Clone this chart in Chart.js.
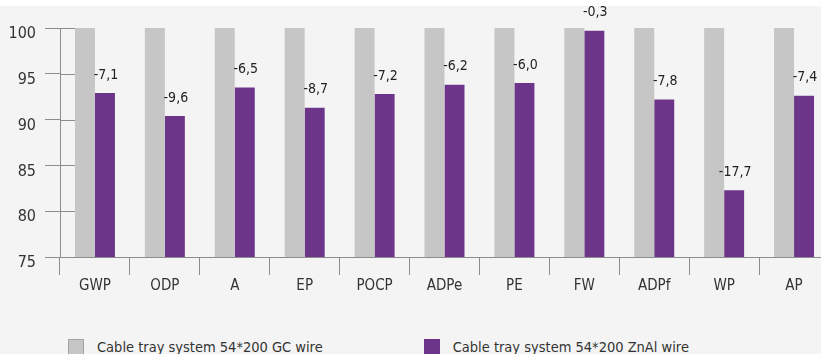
<!DOCTYPE html>
<html>
<head>
<meta charset="utf-8">
<script src="https://cdn.jsdelivr.net/npm/chart.js@4.4.1/dist/chart.umd.min.js"></script>
<style>
	html, body { margin: 0; padding: 0; background: #fff; overflow: hidden; }
	.wrap { position: absolute; left: 0; top: 6px; width: 821px; height: 348px; background: #f4f4f4; overflow: hidden; }
	/* plot runs a few px past the right edge, the last pair gets cut */
	.chart-box { position: absolute; left: 0; top: 0; width: 829px; height: 291px; }
	.legend { position: absolute; left: 68px; top: 333px; display: flex; gap: 101px; margin: 0; padding: 0; list-style: none;
		font: 14.5px 'Liberation Sans Narrow', 'DejaVu Sans Condensed', sans-serif; color: #333; }
	.legend li { display: flex; align-items: center; height: 16px; }
	.legend .box { display: inline-block; width: 16px; height: 16px; box-sizing: border-box; margin-right: 13px; }
</style>
</head>
<body>
<div class="wrap">
	<div class="chart-box"><canvas id="lcaChart"></canvas></div>
	<ul class="legend" id="legendBox"></ul>
</div>
<script>
const categories = ["GWP", "ODP", "A", "EP", "POCP", "ADPe", "PE", "FW", "ADPf", "WP", "AP"]
const gcWire = [100, 100, 100, 100, 100, 100, 100, 100, 100, 100, 100]
const diffZnAl = [-7.1, -9.6, -6.5, -8.7, -7.2, -6.2, -6.0, -0.3, -7.8, -17.7, -7.4]
const znalWire = diffZnAl.map(d => +(100 + d).toFixed(1))
const yTicks = [75, 80, 85, 90, 95, 100]

const FONT = "'Liberation Sans Narrow', 'DejaVu Sans Condensed', sans-serif"
const AXIS = "#8c8c8c"
const legend_box = document.getElementById("legendBox")

// short tick marks that poke into the plot area from the y axis
const innerTicks = {
	id: "innerTicks",
	afterDatasetsDraw(chart) {
		const { ctx, chartArea, scales } = chart
		ctx.save()
		ctx.strokeStyle = AXIS
		ctx.lineWidth = 1
		yTicks.forEach(v => {
			const y = Math.round(scales.y.getPixelForValue(v)) + 0.5
			ctx.beginPath()
			ctx.moveTo(chartArea.left, y)
			ctx.lineTo(chartArea.left + 15, y)
			ctx.stroke()
		})
		ctx.restore()
	}
}

// difference labels above the ZnAl bars
const diffLabels = {
	id: "diffLabels",
	afterDatasetsDraw(chart) {
		const { ctx } = chart
		const meta = chart.getDatasetMeta(1)
		ctx.save()
		ctx.font = "14px " + FONT
		ctx.fillStyle = "#222"
		ctx.textAlign = "center"
		ctx.textBaseline = "bottom"
		meta.data.forEach((bar, i) => {
			ctx.fillText(diffZnAl[i].toFixed(1).replace(".", ","), bar.x + 1, bar.y - 11)
		})
		ctx.restore()
	}
}

// legend built as html list under the canvas
const htmlLegend = {
	id: "htmlLegend",
	afterUpdate(chart) {
		legend_box.innerHTML = ""
		chart.data.datasets.forEach((ds, i) => {
			const li = document.createElement("li")
			const box = document.createElement("span")
			box.className = "box"
			box.style.background = ds.backgroundColor
			box.style.border = "1px solid " + (i === 0 ? "#a3a3a3" : ds.backgroundColor)
			li.appendChild(box)
			li.appendChild(document.createTextNode(ds.label))
			legend_box.appendChild(li)
		})
	}
}

const ctx = document.getElementById("lcaChart").getContext("2d")
new Chart(ctx, {
	type: "bar",
	data: {
		labels: categories,
		datasets: [
			{
				label: "Cable tray system 54*200 GC wire",
				data: gcWire,
				backgroundColor: "#c6c6c6",
				borderWidth: 0,
			},
			{
				label: "Cable tray system 54*200 ZnAl wire",
				data: znalWire,
				backgroundColor: "#6c3589",
				borderWidth: 0,
			}
		]
	},
	options: {
		responsive: true,
		maintainAspectRatio: false,
		animation: false,
		layout: { padding: { top: 22, right: 0, left: 0, bottom: 0 } },
		datasets: {
			bar: { barPercentage: 1, categoryPercentage: 0.572 }
		},
		scales: {
			x: {
				grid: { drawOnChartArea: false, tickLength: 18, color: AXIS },
				border: { color: AXIS },
				ticks: { color: "#333", font: { family: FONT, size: 15 }, padding: 2 },
			},
			y: {
				min: 75,
				max: 100,
				afterFit(scale) { scale.width = 60 },
				afterBuildTicks(scale) { scale.ticks = yTicks.map(v => ({ value: v })) },
				grid: { drawOnChartArea: false, tickLength: 15, color: AXIS },
				border: { color: AXIS },
				ticks: { color: "#333", font: { family: FONT, size: 16 }, padding: 9, labelOffset: 6 },
			}
		},
		plugins: {
			tooltip: { enabled: false },
			legend: { display: false }
		}
	},
	plugins: [innerTicks, diffLabels, htmlLegend]
})
</script>
</body>
</html>
